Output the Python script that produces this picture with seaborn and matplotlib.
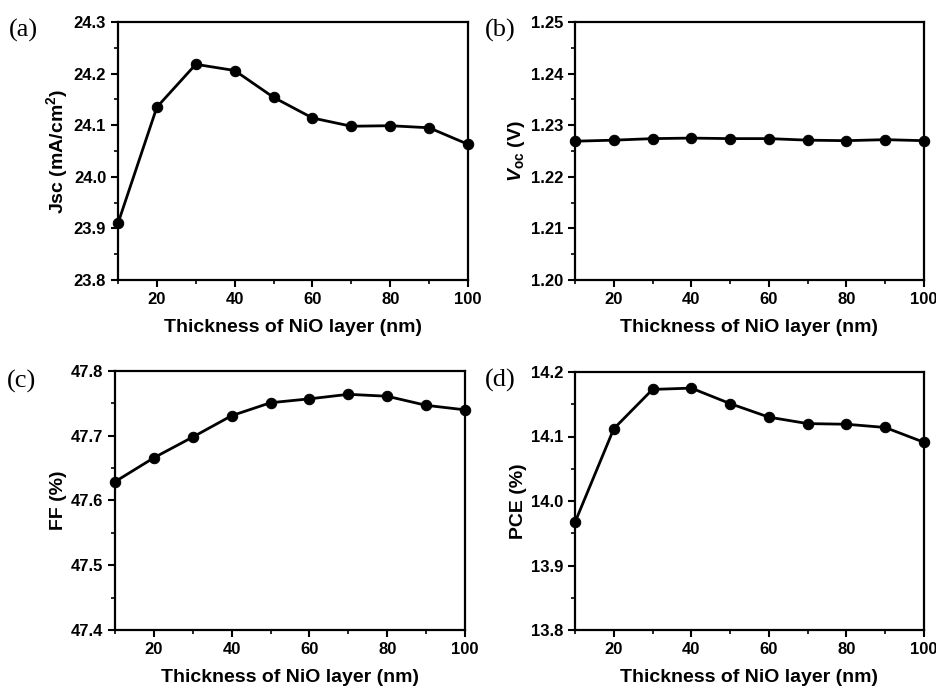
import matplotlib
matplotlib.use("Agg")
import matplotlib.pyplot as plt
import seaborn as sns
import pandas as pd
from matplotlib.ticker import MultipleLocator

thickness = [10, 20, 30, 40, 50, 60, 70, 80, 90, 100]
jsc = [23.91, 24.135, 24.218, 24.206, 24.154, 24.114, 24.098, 24.099, 24.095, 24.063]
voc = [1.2269, 1.2271, 1.2274, 1.2275, 1.2274, 1.2274, 1.2271, 1.2270, 1.2272, 1.2270]
ff = [47.629, 47.666, 47.698, 47.731, 47.751, 47.757, 47.764, 47.761, 47.747, 47.740]
pce = [13.967, 14.112, 14.173, 14.175, 14.151, 14.130, 14.120, 14.119, 14.114, 14.091]

sns.set_style("ticks")
plt.rcParams['font.family'] = ['Liberation Sans', 'DejaVu Sans']
plt.rcParams['font.weight'] = 'bold'
plt.rcParams['mathtext.fontset'] = 'custom'
plt.rcParams['mathtext.rm'] = 'Liberation Sans:bold'
plt.rcParams['mathtext.it'] = 'Liberation Sans:bold:italic'
plt.rcParams['mathtext.bf'] = 'Liberation Sans:bold'
for k in ['text.color', 'axes.labelcolor', 'xtick.color', 'ytick.color', 'axes.edgecolor']:
    plt.rcParams[k] = 'black'

fig = plt.figure(figsize=(9.37, 6.9), dpi=100)
W, H = 937, 690

panels = [
    dict(pos=(118, 22, 468, 280), y=jsc, ylim=(23.8, 24.3), major=0.1, minor=0.05,
         fmt="{:.1f}", ylabel=r"Jsc (mA/cm$^{2}$)", tag="(a)", tagx=9, tagy=30),
    dict(pos=(575, 22, 924, 280), y=voc, ylim=(1.20, 1.25), major=0.01, minor=0.005,
         fmt="{:.2f}", ylabel=r"$V_{\mathrm{oc}}$ (V)", tag="(b)", tagx=485, tagy=30),
    dict(pos=(115, 371, 465, 630), y=ff, ylim=(47.4, 47.8), major=0.1, minor=0.05,
         fmt="{:.1f}", ylabel="FF (%)", tag="(c)", tagx=7, tagy=381),
    dict(pos=(575, 372, 924, 630), y=pce, ylim=(13.8, 14.2), major=0.1, minor=0.05,
         fmt="{:.1f}", ylabel="PCE (%)", tag="(d)", tagx=485, tagy=380),
]

for p in panels:
    l, t, r, b = p["pos"]
    ax = fig.add_axes([l / W, 1 - b / H, (r - l) / W, (b - t) / H])
    df = pd.DataFrame({"x": thickness, "y": p["y"]})
    sns.lineplot(data=df, x="x", y="y", ax=ax, color="black", linewidth=2,
                 marker="o", markersize=7.5, markeredgecolor="black", clip_on=False)
    ax.set_xlim(10, 100)
    ax.set_ylim(*p["ylim"])
    ax.xaxis.set_minor_locator(MultipleLocator(10))
    ax.yaxis.set_minor_locator(MultipleLocator(p["minor"]))
    ax.set_xticks([20, 40, 60, 80, 100])
    ax.set_xticklabels(["20", "40", "60", "80", "100"])
    lo, hi = p["ylim"]
    n = int(round((hi - lo) / p["major"]))
    yt = [lo + i * p["major"] for i in range(n + 1)]
    ax.set_yticks(yt)
    ax.set_yticklabels([p["fmt"].format(v) for v in yt])
    ax.tick_params(axis="both", which="major", direction="out", length=5, width=1.5,
                   labelsize=12, top=False, right=False, colors="black")
    ax.tick_params(axis="both", which="minor", direction="out", length=3, width=1.2,
                   top=False, right=False, colors="black")
    for lab in ax.get_xticklabels() + ax.get_yticklabels():
        lab.set_fontweight("bold")
    for s in ax.spines.values():
        s.set_visible(True)
        s.set_linewidth(1.6)
        s.set_color("black")
    ax.set_xlabel("Thickness of NiO layer (nm)", fontsize=14, fontweight="bold", labelpad=9)
    ax.set_ylabel(p["ylabel"], fontsize=14, fontweight="bold", labelpad=3)
    ax.grid(False)
    fig.text(p["tagx"] / W, 1 - p["tagy"] / H, p["tag"], fontsize=19,
             family=["Liberation Serif", "DejaVu Serif"], fontweight="normal",
             va="center", ha="left", color="black")

fig.savefig("out.png", dpi=100, facecolor="white")
